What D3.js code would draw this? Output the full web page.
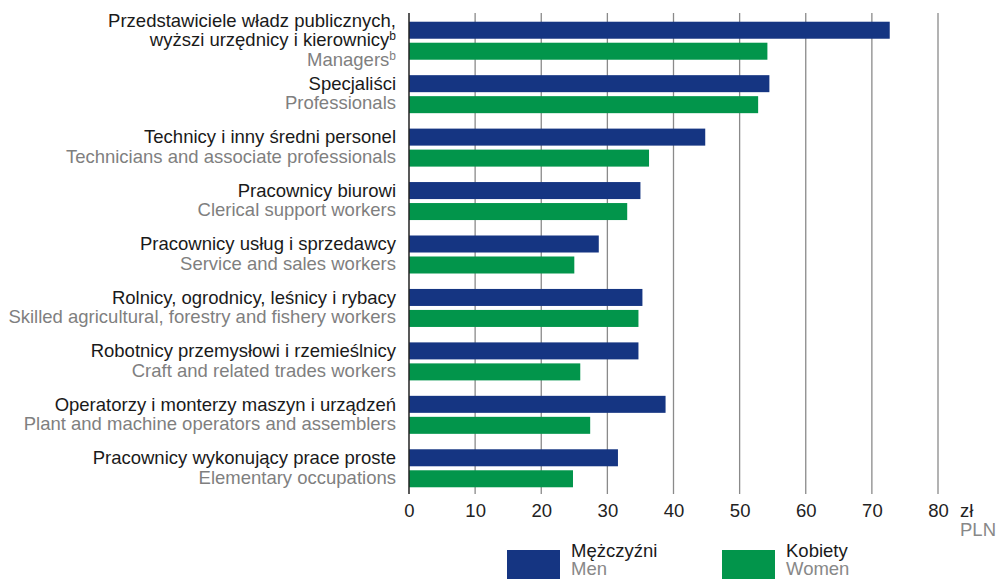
<!DOCTYPE html>
<html>
<head>
<meta charset="utf-8">
<script src="https://cdn.jsdelivr.net/npm/d3@7"></script>
<style>
  body { margin: 0; background: #fff; }
  svg { display: block; font-family: "Liberation Sans", Arial, sans-serif; }
</style>
</head>
<body>
<div id="chart"></div>
<script>
// Chart data
const categoriesPl = [
  ['Przedstawiciele władz publicznych,', 'wyższi urzędnicy i kierownicy|b'],
  ['Specjaliści'],
  ['Technicy i inny średni personel'],
  ['Pracownicy biurowi'],
  ['Pracownicy usług i sprzedawcy'],
  ['Rolnicy, ogrodnicy, leśnicy i rybacy'],
  ['Robotnicy przemysłowi i rzemieślnicy'],
  ['Operatorzy i monterzy maszyn i urządzeń'],
  ['Pracownicy wykonujący prace proste']
];
const categoriesEn = [
  'Managers|b',
  'Professionals',
  'Technicians and associate professionals',
  'Clerical support workers',
  'Service and sales workers',
  'Skilled agricultural, forestry and fishery workers',
  'Craft and related trades workers',
  'Plant and machine operators and assemblers',
  'Elementary occupations'
];
const menValues   = [72.7, 54.5, 44.8, 35.0, 28.7, 35.3, 34.7, 38.8, 31.6];
const womenValues = [54.2, 52.8, 36.3, 33.0, 25.0, 34.7, 25.9, 27.4, 24.8];
const xTicks = [0, 10, 20, 30, 40, 50, 60, 70, 80];
const seriesKeys = ['men', 'women'];
const seriesPl = ['Mężczyźni', 'Kobiety'];
const seriesEn = ['Men', 'Women'];
const colors = { men: '#153582', women: '#02954b' };

const W = 1003, H = 579;
const FS = '18.5px';
const svg = d3.select('#chart').append('svg').attr('width', W).attr('height', H);

const x = d3.scaleLinear().domain([0, 80]).range([409, 938]);
const y = d3.scaleBand().domain(d3.range(categoriesPl.length)).range([14, 495]).padding(0);
const yInner = d3.scaleBand().domain(seriesKeys).range([0, 38]).paddingInner(0.19).paddingOuter(0);

const rows = categoriesPl.map((pl, i) => ({ i, pl, en: categoriesEn[i], men: menValues[i], women: womenValues[i] }));

// gridlines
svg.append('g').selectAll('line')
  .data(xTicks.filter(t => t > 0)).enter().append('line')
  .attr('x1', d => x(d)).attr('x2', d => x(d))
  .attr('y1', 13).attr('y2', 494)
  .attr('stroke', '#8a8a8a').attr('stroke-width', 1.3);

// bars
const groups = svg.append('g').selectAll('g')
  .data(rows).enter().append('g')
  .attr('transform', d => `translate(0,${y(d.i) + y.bandwidth() / 2 - 19})`);

groups.selectAll('rect')
  .data(d => seriesKeys.map(k => ({ k, v: d[k] }))).enter().append('rect')
  .attr('x', x(0))
  .attr('y', d => yInner(d.k))
  .attr('width', d => x(d.v) - x(0))
  .attr('height', yInner.bandwidth())
  .attr('fill', d => colors[d.k]);

// zero axis line
svg.append('line')
  .attr('x1', x(0)).attr('x2', x(0)).attr('y1', 13).attr('y2', 494)
  .attr('stroke', '#222').attr('stroke-width', 1.5);

// x axis labels
const xAxis = svg.append('g')
  .attr('transform', 'translate(0,494)')
  .call(d3.axisBottom(x).tickValues(xTicks).tickSize(0).tickPadding(10));
xAxis.select('.domain').remove();
xAxis.selectAll('text')
  .style('font-size', FS)
  .style('font-family', '"Liberation Sans", Arial, sans-serif')
  .attr('fill', '#222');

svg.append('text').attr('x', 960).attr('y', 517)
  .style('font-size', FS).attr('fill', '#222').text('zł');
svg.append('text').attr('x', 960).attr('y', 536)
  .style('font-size', FS).attr('fill', '#888').text('PLN');

// category labels
function addLine(sel, str) {
  const [main, sup] = str.split('|');
  sel.append('tspan').text(main);
  if (sup) {
    sel.append('tspan').attr('dy', -6).style('font-size', '12px').text(sup);
  }
}

const lh = 19.5;
rows.forEach(d => {
  const lines = d.pl.map(t => ({ t, c: '#1a1a1a' })).concat([{ t: d.en, c: '#7f7f7f' }]);
  const center = y(d.i) + y.bandwidth() / 2;
  const first = center + 5.5 - (lines.length - 1) * lh / 2;
  lines.forEach((ln, j) => {
    const t = svg.append('text')
      .attr('x', 396).attr('y', first + j * lh)
      .attr('text-anchor', 'end')
      .style('font-size', FS)
      .attr('fill', ln.c);
    addLine(t, ln.t);
  });
});

// legend
const legendX = [507, 722];
seriesKeys.forEach((k, i) => {
  svg.append('rect')
    .attr('x', legendX[i]).attr('y', 550).attr('width', 53).attr('height', 29)
    .attr('fill', colors[k]);
  svg.append('text').attr('x', legendX[i] + 64).attr('y', 557)
    .style('font-size', FS).attr('fill', '#1a1a1a').text(seriesPl[i]);
  svg.append('text').attr('x', legendX[i] + 64).attr('y', 575)
    .style('font-size', FS).attr('fill', '#888').text(seriesEn[i]);
});
</script>
</body>
</html>
